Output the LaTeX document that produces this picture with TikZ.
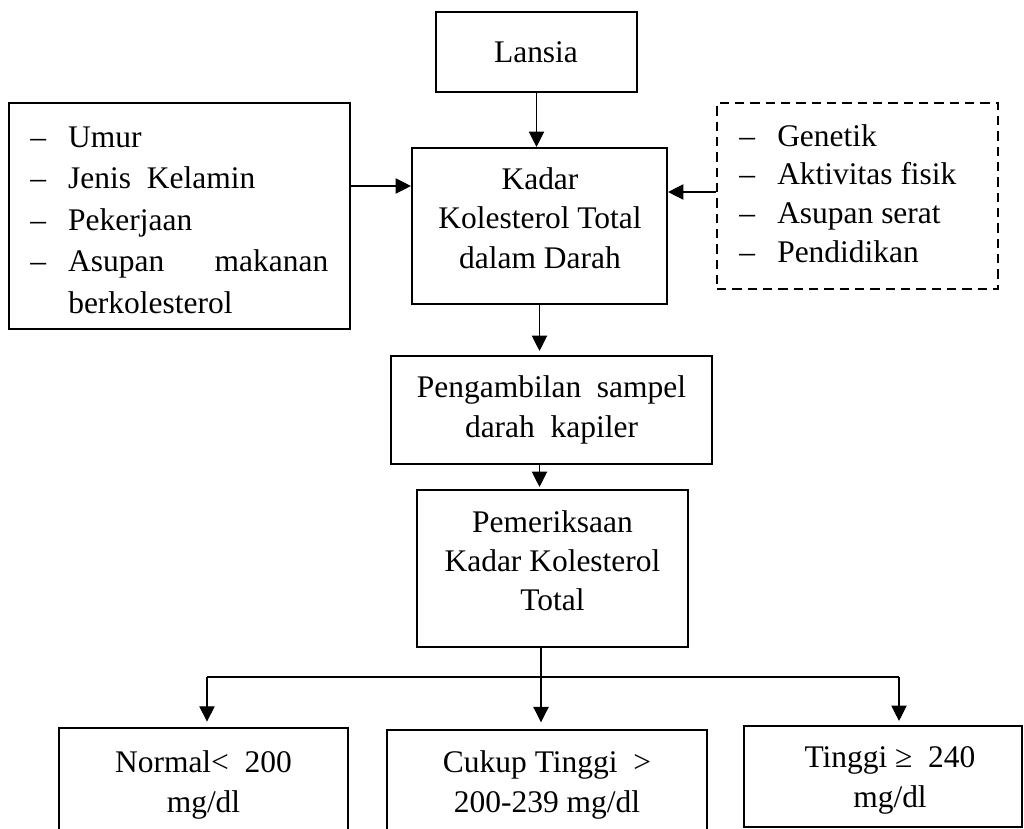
\documentclass[tikz,border=0pt]{standalone}
\usepackage{fontspec}
\setmainfont{Liberation Serif}
\usetikzlibrary{arrows.meta}
\newcommand{\setfsz}[1]{\fontsize{23.6pt}{#1}\selectfont}
\tikzset{
  boxnode/.style={draw, line width=1.6pt, inner sep=0pt, rectangle},
  dashbox/.style={boxnode, dash pattern=on 7pt off 4.5pt},
  txt/.style={inner sep=0pt, anchor=base},
  listtxt/.style={inner sep=0pt, anchor=base west},
  conn/.style={line width=0.8pt, -{Triangle[length=11.5pt,width=11.5pt]}},
  plainline/.style={line width=0.8pt}
}
\begin{document}
\begin{tikzpicture}[x=0.75pt,y=-0.75pt]
\useasboundingbox (0,0) rectangle (1024,828);
\clip (0,0) rectangle (1024,828);

% boxes
\node[boxnode, minimum width=150.75pt, minimum height=60pt] (lansia) at (536.5,52) {};
\node[boxnode, minimum width=191.25pt, minimum height=117pt] (kadar) at (539.5,226) {};
\node[boxnode, minimum width=255.75pt, minimum height=169.5pt] (faktor) at (179.5,216) {};
\node[dashbox, minimum width=210.75pt, minimum height=139.5pt] (lain) at (857.5,196) {};
\node[boxnode, minimum width=240.75pt, minimum height=81pt] (peng) at (551.5,410) {};
\node[boxnode, minimum width=203.25pt, minimum height=117.75pt] (pem) at (552.5,568.5) {};
\node[boxnode, minimum width=216.75pt, minimum height=99pt] (normal) at (203.5,794) {};
\node[boxnode, minimum width=240pt, minimum height=97.5pt] (cukup) at (547,795) {};
\node[boxnode, minimum width=208.5pt, minimum height=75.75pt] (tinggi) at (883,776.5) {};

% texts
\node[txt] (lansiaT) at (536,62) {\setfsz{30pt}Lansia};
\node[txt] (kadarT) at (540,189.3) {\begin{minipage}[t]{240pt}\centering\setfsz{29.6pt}Kadar\\Kolesterol Total\\dalam Darah\end{minipage}};
\node[listtxt] (faktorT) at (30,147) {\begin{minipage}[t]{223.5pt}\raggedright\setfsz{31.2pt}%
\makebox[28.5pt][l]{–}Umur\\
\makebox[28.5pt][l]{–}Jenis\ \ Kelamin\\
\makebox[28.5pt][l]{–}Pekerjaan\\
\makebox[28.5pt][l]{–}Asupan\hfill makanan\\
\hspace*{28.5pt}berkolesterol\end{minipage}};
\node[listtxt] (lainT) at (739,146) {\begin{minipage}[t]{190pt}\raggedright\setfsz{29.1pt}%
\makebox[28.5pt][l]{–}Genetik\\
\makebox[28.5pt][l]{–}Aktivitas fisik\\
\makebox[28.5pt][l]{–}Asupan serat\\
\makebox[28.5pt][l]{–}Pendidikan\end{minipage}};
\node[txt] (pengT) at (551.5,397) {\begin{minipage}[t]{240pt}\centering\setfsz{30pt}Pengambilan\ \ sampel\\darah\ \ kapiler\end{minipage}};
\node[txt] (pemT) at (552.5,532) {\begin{minipage}[t]{200pt}\centering\setfsz{29.25pt}Pemeriksaan\\Kadar Kolesterol\\Total\end{minipage}};
\node[txt] (normalT) at (203.5,772) {\begin{minipage}[t]{210pt}\centering\setfsz{30pt}Normal<\ \ 200\\mg/dl\end{minipage}};
\node[txt] (cukupT) at (547,772) {\begin{minipage}[t]{235pt}\centering\setfsz{30pt}Cukup Tinggi\ \ >\\200-239 mg/dl\end{minipage}};
\node[txt] (tinggiT) at (890,767) {\begin{minipage}[t]{210pt}\centering\setfsz{30pt}Tinggi ≥\ \ 240\\mg/dl\end{minipage}};

% connectors
\coordinate (yL) at (0,186);
\coordinate (yR) at (0,192);
\draw[conn] (faktor.east |- yL) -- (kadar.west |- yL);
\draw[conn] (lain.west |- yR) -- (kadar.east |- yR);
\draw[conn] (lansia.south) -- (lansia.south |- kadar.north);
\draw[conn, shorten >=3pt] (kadar.south) -- (kadar.south |- peng.north);
\draw[conn, shorten >=1.5pt] (kadar.south |- peng.south) -- (kadar.south |- pem.north);

\coordinate (split) at (541,677);
\coordinate (bl) at (207,677);
\coordinate (br) at (899,677);
\draw[plainline] (pem.south -| split) -- (split);
\draw[plainline] (bl) -- (br);
\draw[conn, shorten >=4pt] (bl) -- (bl |- normal.north);
\draw[conn, shorten >=5pt] (split) -- (split |- cukup.north);
\draw[conn, shorten >=3pt] (br) -- (br |- tinggi.north);
\end{tikzpicture}
\end{document}
